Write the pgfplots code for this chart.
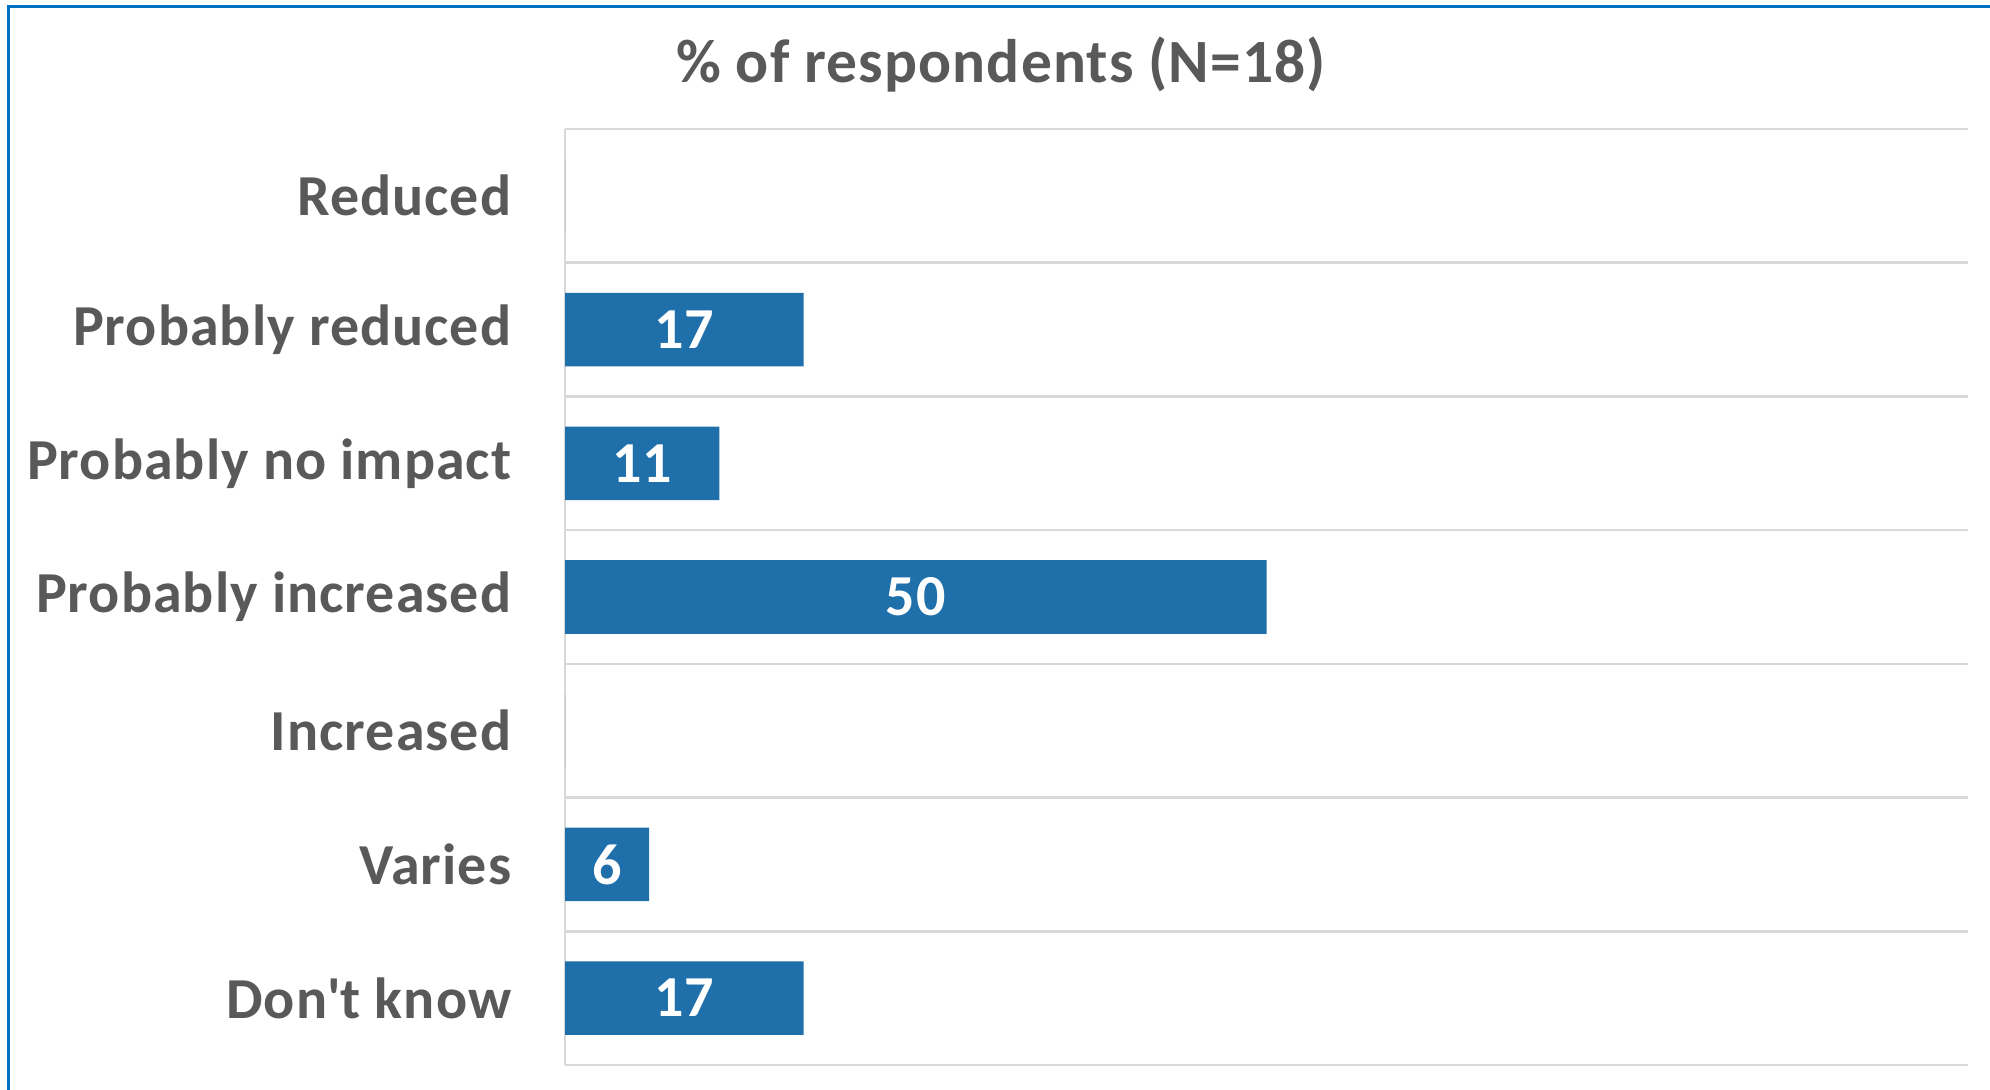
\documentclass[border=0pt]{standalone}
\usepackage{pgfplots}
\usepackage{pgfplotstable}
\pgfplotsset{compat=1.18}
\usepackage{fontspec}
\setmainfont{Carlito}[LetterSpace=1.8]
\definecolor{barblue}{RGB}{31,111,170}
\definecolor{txt}{RGB}{89,89,89}
\definecolor{framec}{RGB}{0,112,192}
\definecolor{gridc}{RGB}{217,217,217}
\pgfplotstableread{
y v
0 0
1 17
2 11
3 50
4 0
5 6
6 17
}\data
\begin{document}
\begin{tikzpicture}[x=1mm,y=1mm]
\useasboundingbox (0,0) rectangle (199,109);
\draw[framec, line width=0.3mm] (0.8,-10) -- (0.8,108.3) -- (210,108.3);
\node[font=\bfseries\fontsize{17.5}{20}\selectfont, text=txt] at (100.1,102.5) {\% of respondents (N=18)};
\begin{axis}[at={(56.5mm,2.5mm)}, anchor=south west, width=140.3mm, height=93.6mm, scale only axis,
  /pgf/number format/assume math mode=true,
  xmin=0, xmax=100, ymin=-0.5, ymax=6.5, y dir=reverse,
  axis x line=none, axis y line*=left,
  y axis line style={gridc, line width=0.25mm},
  ytick={0,...,6},
  yticklabels={Reduced,Probably reduced,Probably no impact,Probably increased,Increased,Varies,Don\textquotesingle t know},
  major tick length=0, minor tick length=0,
  minor ytick={-0.5,0.5,...,6.5}, yminorgrids,
  minor grid style={gridc, line width=0.25mm},
  yticklabel style={font=\bfseries\fontsize{16.5}{19}\selectfont, text=txt, anchor=east, inner sep=0pt, xshift=-5.3mm},
  clip=false]
\addplot[xbar, bar width=0.55, fill=barblue, draw=none] table[x=v, y=y] {\data};
\addplot[only marks, mark=none, nodes near coords, point meta=explicit,
  restrict x to domain=0.01:200,
  nodes near coords style={anchor=center, text=white, font=\bfseries\fontsize{16.5}{19}\selectfont}]
  table[x expr=\thisrow{v}/2, y=y, meta=v] {\data};
\end{axis}
\end{tikzpicture}
\end{document}
